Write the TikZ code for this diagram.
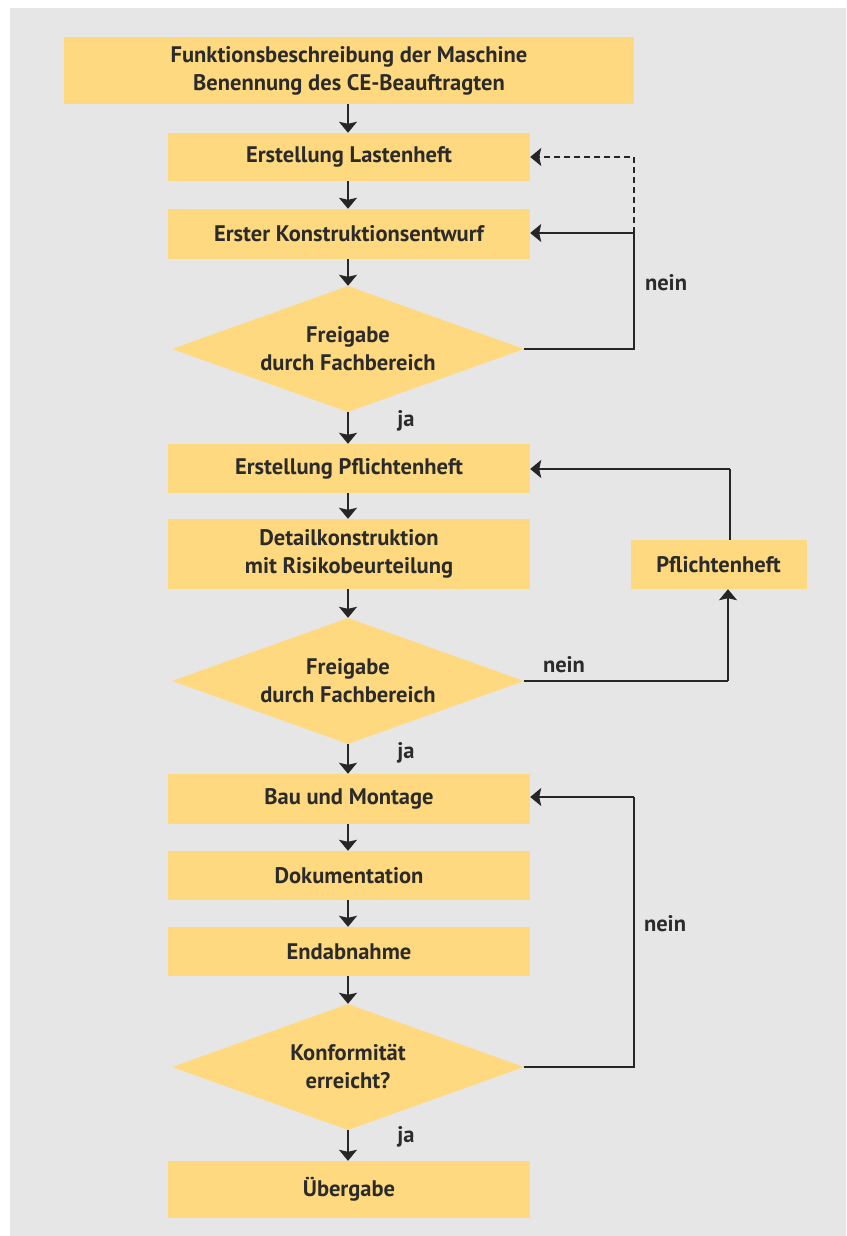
\documentclass[tikz,border=0pt]{standalone}
\usepackage{fontspec}
\setmainfont{PT Sans}
\usetikzlibrary{shapes.geometric,arrows.meta}
\definecolor{boxfill}{HTML}{FFD97F}
\definecolor{bggray}{HTML}{E6E6E6}
\definecolor{ink}{HTML}{2B2B2B}
\definecolor{linecol}{HTML}{262626}
\tikzset{
  txt/.style={text=ink, font=\fontsize{22.5}{28}\selectfont\bfseries},
  stepbox/.style={txt, rectangle, fill=boxfill, draw=none, minimum width=362pt,
    align=center, inner sep=0pt},
  decision/.style={txt, diamond, shape aspect=2.8, fill=boxfill, draw=none,
    minimum width=352pt, minimum height=126pt, align=center, inner sep=0pt},
  lbl/.style={txt, inner sep=0pt},
  flow/.style={draw=linecol, line width=1.8pt},
  arr/.style={flow, -{Stealth[length=11pt,width=18pt,inset=2pt]}},
}
\begin{document}
\begin{tikzpicture}[x=1pt,y=-1pt]
  \useasboundingbox (0,0) rectangle (846,1236);
  \fill[bggray] (10,8) rectangle (846,1236);

  % main column
  \node[stepbox, minimum width=570pt, minimum height=67pt] (b1) at (349,70.5)
    {Funktionsbeschreibung der Maschine\\Benennung des CE-Beauftragten};
  \node[stepbox, minimum height=48pt] (b2) at (349,157) {Erstellung Lastenheft};
  \node[stepbox, minimum height=50pt] (b3) at (349,234) {Erster Konstruktionsentwurf};
  \node[decision] (d1) at (348,349) {Freigabe\\durch Fachbereich};
  \node[stepbox, minimum height=49pt] (b4) at (349,468.5) {Erstellung Pflichtenheft};
  \node[stepbox, minimum height=70pt] (b5) at (349,554) {Detailkonstruktion\\mit Risikobeurteilung};
  \node[decision] (d2) at (348,681) {Freigabe\\durch Fachbereich};
  \node[stepbox, minimum height=50pt] (b6) at (349,799) {Bau und Montage};
  \node[stepbox, minimum height=49pt] (b7) at (349,875.5) {Dokumentation};
  \node[stepbox, minimum height=49pt] (b8) at (349,951.5) {Endabnahme};
  \node[decision] (d3) at (348,1067) {Konformität\\erreicht?};
  \node[stepbox, minimum height=57pt] (b9) at (349,1189.5) {Übergabe};

  % side box
  \node[stepbox, minimum width=176pt, minimum height=49pt] (pf) at (718.5,564.5) {Pflichtenheft};

  % straight flow
  \draw[arr] (b1.south -| 348,0) -- (b2.north -| 348,0);
  \draw[arr] (b2.south -| 348,0) -- (b3.north -| 348,0);
  \draw[arr] (b3.south -| 348,0) -- (d1.north);
  \draw[arr] (d1.south) -- (b4.north -| 348,0);
  \draw[arr] (b4.south -| 348,0) -- (b5.north -| 348,0);
  \draw[arr] (b5.south -| 348,0) -- (d2.north);
  \draw[arr] (d2.south) -- (b6.north -| 348,0);
  \draw[arr] (b6.south -| 348,0) -- (b7.north -| 348,0);
  \draw[arr] (b7.south -| 348,0) -- (b8.north -| 348,0);
  \draw[arr] (b8.south -| 348,0) -- (d3.north);
  \draw[arr] (d3.south) -- (b9.north -| 348,0);

  % first loop back
  \coordinate (k1) at (634,349);
  \coordinate (k1t) at (634,233);
  \draw[flow] (d1.east) -- (k1) -- (k1t);
  \draw[arr] (k1t) -- (b3.east |- k1t);
  \draw[arr, dash pattern=on 6pt off 4pt] (k1t) |- (b2.east);

  % second loop via Pflichtenheft
  \coordinate (k2) at (728,681);
  \draw[flow] (d2.east) -- (k2);
  \draw[arr] (k2) -- (pf.south -| k2);
  \coordinate (k3) at (730,469);
  \draw[flow] (pf.north -| k3) -- (k3);
  \draw[arr] (k3) -- (b4.east |- k3);

  % third loop back
  \coordinate (k4) at (634,1067);
  \coordinate (k4t) at (634,797);
  \draw[flow] (d3.east) -- (k4) -- (k4t);
  \draw[arr] (k4t) -- (b6.east |- k4t);

  % labels
  \node[lbl] (n1) at (666,283) {nein};
  \node[lbl] (j1) at (406,421) {ja};
  \node[lbl] (n2) at (564,665) {nein};
  \node[lbl] (j2) at (406,753) {ja};
  \node[lbl] (n3) at (665,924) {nein};
  \node[lbl] (j3) at (406,1137) {ja};
\end{tikzpicture}
\end{document}
